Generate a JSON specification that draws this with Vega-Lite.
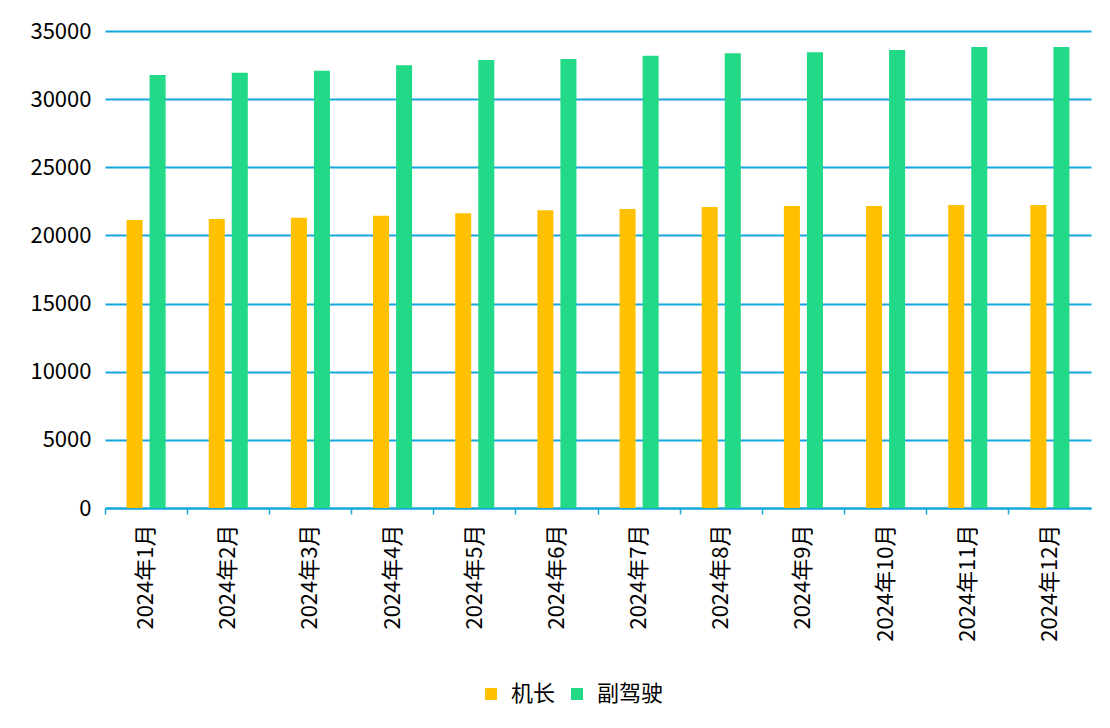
{
  "$schema": "https://vega.github.io/schema/vega-lite/v6.json",
  "width": 986,
  "height": 477,
  "autosize": {"type": "none"},
  "padding": {"left": 105, "top": 31, "right": 19, "bottom": 220},
  "background": "white",
  "data": {
    "values": [
      {"month": "2024年1月", "role": "机长", "value": 21130},
      {"month": "2024年1月", "role": "副驾驶", "value": 31770},
      {"month": "2024年2月", "role": "机长", "value": 21200},
      {"month": "2024年2月", "role": "副驾驶", "value": 31940},
      {"month": "2024年3月", "role": "机长", "value": 21300},
      {"month": "2024年3月", "role": "副驾驶", "value": 32090},
      {"month": "2024年4月", "role": "机长", "value": 21450},
      {"month": "2024年4月", "role": "副驾驶", "value": 32480},
      {"month": "2024年5月", "role": "机长", "value": 21620},
      {"month": "2024年5月", "role": "副驾驶", "value": 32870},
      {"month": "2024年6月", "role": "机长", "value": 21840},
      {"month": "2024年6月", "role": "副驾驶", "value": 32950},
      {"month": "2024年7月", "role": "机长", "value": 21940},
      {"month": "2024年7月", "role": "副驾驶", "value": 33190},
      {"month": "2024年8月", "role": "机长", "value": 22090},
      {"month": "2024年8月", "role": "副驾驶", "value": 33360},
      {"month": "2024年9月", "role": "机长", "value": 22160},
      {"month": "2024年9月", "role": "副驾驶", "value": 33440},
      {"month": "2024年10月", "role": "机长", "value": 22160},
      {"month": "2024年10月", "role": "副驾驶", "value": 33610},
      {"month": "2024年11月", "role": "机长", "value": 22230},
      {"month": "2024年11月", "role": "副驾驶", "value": 33830},
      {"month": "2024年12月", "role": "机长", "value": 22230},
      {"month": "2024年12月", "role": "副驾驶", "value": 33830}
    ]
  },
  "mark": {"type": "bar"},
  "encoding": {
    "x": {
      "field": "month",
      "type": "nominal",
      "sort": null,
      "scale": {"paddingInner": 0, "paddingOuter": 0},
      "axis": {
        "title": null,
        "labelAngle": -90,
        "labelAlign": "right",
        "labelBaseline": "middle",
        "labelFontSize": 22,
        "labelColor": "#000000",
        "labelPadding": 10,
        "domainColor": "#13A6E0",
        "domainWidth": 2,
        "tickColor": "#13A6E0",
        "tickSize": 6,
        "tickWidth": 1.5,
        "bandPosition": 0,
        "grid": false
      }
    },
    "xOffset": {
      "field": "role",
      "type": "nominal",
      "sort": ["机长", "副驾驶"],
      "scale": {"paddingInner": 0.304, "paddingOuter": 0.935}
    },
    "y": {
      "field": "value",
      "type": "quantitative",
      "scale": {"domain": [0, 35000], "nice": false},
      "axis": {
        "title": null,
        "format": "d",
        "values": [0, 5000, 10000, 15000, 20000, 25000, 30000, 35000],
        "domain": false,
        "ticks": false,
        "labelFontSize": 22,
        "labelColor": "#000000",
        "labelPadding": 14,
        "gridColor": "#13A6E0",
        "gridWidth": 2,
        "gridOpacity": 1
      }
    },
    "color": {
      "field": "role",
      "type": "nominal",
      "sort": ["机长", "副驾驶"],
      "scale": {"domain": ["机长", "副驾驶"], "range": ["#FFC000", "#22D987"]},
      "legend": {
        "title": null,
        "orient": "none",
        "legendX": 375,
        "legendY": 652,
        "direction": "horizontal",
        "symbolType": "square",
        "symbolSize": 144,
        "symbolStrokeWidth": 0,
        "symbolOpacity": 1,
        "labelFontSize": 22,
        "labelColor": "#000000",
        "labelOffset": 9,
        "columnPadding": 10
      }
    }
  },
  "config": {
    "view": {"stroke": null},
    "font": "Noto Sans CJK SC"
  }
}
